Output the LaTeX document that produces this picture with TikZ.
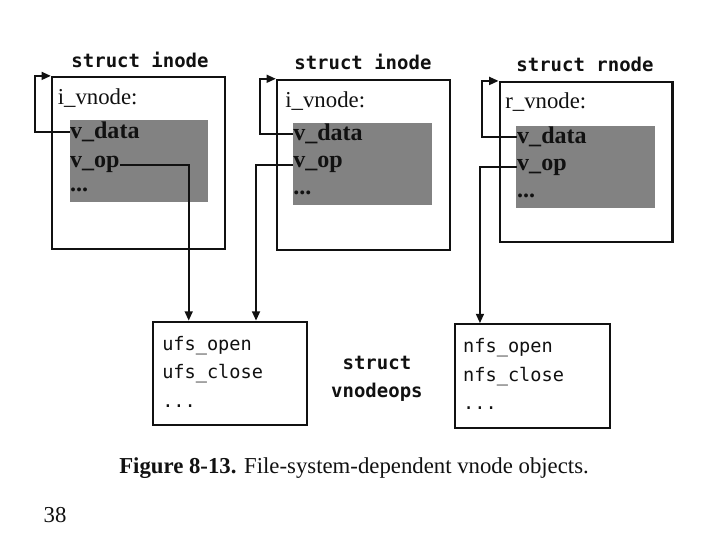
\documentclass[tikz,border=0pt]{standalone}
\usepackage{fontspec}
\setmainfont{Liberation Serif}
\setmonofont{DejaVu Sans Mono}
\usetikzlibrary{arrows.meta, positioning, calc}
\definecolor{ink}{HTML}{111111}
\definecolor{halftone}{HTML}{828282}
\definecolor{paper}{HTML}{FFFFFF}

\begin{document}
\begin{tikzpicture}[
  >={Triangle[length=2.6mm, width=2.2mm]},
  every node/.style={text=ink},
  outerbox/.style={draw=ink, line width=1.8pt, minimum width=4.8cm, inner sep=0pt},
  shadebox/.style={fill=halftone, minimum width=3.85cm, minimum height=2.28cm, inner sep=0pt},
  opsbox/.style={draw=ink, line width=1.6pt, minimum width=4.3cm, minimum height=2.88cm, inner sep=0pt},
  structlbl/.style={font=\ttfamily\bfseries\fontsize{15}{22}\selectfont, align=center},
  vnodelbl/.style={anchor=west, inner sep=0pt, font=\fontsize{18}{20}\selectfont},
  field/.style={anchor=west, inner sep=0pt, font=\bfseries\fontsize{19}{21}\selectfont},
  opslist/.style={anchor=west, inner sep=0pt, align=left, font=\ttfamily\fontsize{14.7}{22.5}\selectfont},
  link/.style={draw=ink, line width=1.5pt},
]

% Page
\fill[paper] (0,0) rectangle (20,15);
\useasboundingbox (0,0) rectangle (20,15);

% struct inode (ufs, first)
\node[outerbox, minimum height=4.78cm] (ino1) at (3.845,10.47) {};
\node[shadebox] (shade1) at (3.86,10.53) {};
\node[structlbl] (title1) at (3.89,13.33) {struct inode};
\node[vnodelbl] (vn1) at (1.6,12.28) {i\_vnode:};
\node[field] (data1) at (1.94,11.33) {v\_data};
\node[field] (op1) at (1.94,10.42) {v\_op};
\node[field] (dots1) at (1.94,9.72) {...};

% struct inode (ufs, second)
\node[outerbox, minimum height=4.72cm] (ino2) at (10.095,10.42) {};
\node[shadebox] (shade2) at (10.07,10.445) {};
\node[structlbl] (title2) at (10.08,13.28) {struct inode};
\node[vnodelbl] (vn2) at (7.92,12.19) {i\_vnode:};
\node[field] (data2) at (8.14,11.28) {v\_data};
\node[field] (op2) at (8.14,10.42) {v\_op};
\node[field] (dots2) at (8.14,9.65) {...};

% struct rnode (nfs)
\node[outerbox, minimum height=4.44cm] (rno) at (16.28,10.5) {};
\node[shadebox] (shade3) at (16.265,10.36) {};
\node[structlbl] (title3) at (16.25,13.22) {struct rnode};
\node[vnodelbl] (vn3) at (14.03,12.17) {r\_vnode:};
\node[field] (data3) at (14.36,11.19) {v\_data};
\node[field] (op3) at (14.36,10.36) {v\_op};
\node[field] (dots3) at (14.36,9.55) {...};

% struct vnodeops
\node[opsbox] (ufs) at (6.39,4.625) {};
\node[opslist] (ufslist) at (4.5,4.67) {ufs\_open\\ufs\_close\\...};
\node[opsbox] (nfs) at (14.79,4.555) {};
\node[opslist] (nfslist) at (12.86,4.6) {nfs\_open\\nfs\_close\\...};
\node[structlbl] (opstitle) at (10.47,4.47) {struct\\vnodeops};

% v_data back to the enclosing object
\coordinate (loop1) at ($(ino1.north west)+(-0.45,0)$);
\coordinate (loop2) at ($(ino2.north west)+(-0.45,0)$);
\coordinate (loop3) at ($(rno.north west)+(-0.45,0)$);
\draw[link, ->] (data1.west) -| (loop1) -- (ino1.north west);
\draw[link, ->] (data2.west) -| (loop2) -- (ino2.north west);
\draw[link, ->] (data3.west) -| (loop3) -- (rno.north west);

% v_op to the operations vector
\draw[link, ->] (op1.east) -| ([xshift=1.03cm]ufs.north west);
\draw[link, ->] (op2.west) -| ([xshift=2.9cm]ufs.north west);
\draw[link, ->] (op3.west) -| ([xshift=0.72cm]nfs.north west);

% Caption
\node[anchor=west, font=\fontsize{18}{20}\selectfont] (caption) at (3.19,2.0)
  {\textbf{Figure 8-13.} File-system-dependent vnode objects.};
\node[font=\fontsize{18}{20}\selectfont] (pageno) at (1.53,0.69) {38};

\end{tikzpicture}
\end{document}
